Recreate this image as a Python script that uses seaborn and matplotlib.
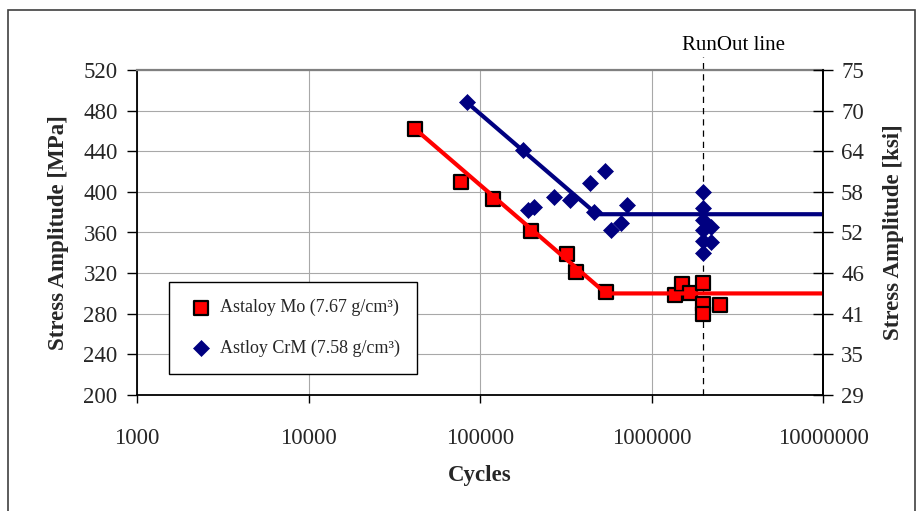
import matplotlib
matplotlib.use("Agg")
import matplotlib.pyplot as plt
import matplotlib.patches as mpatches
import seaborn as sns
import pandas as pd

# ---------------- data ----------------
mo_cycles = [41800, 77500, 119000, 198000, 321000, 363000, 543000,
             1370000, 1510000, 1670000, 2000000, 2000000, 2500000, 2000000]
mo_stress = [462, 410, 393, 361, 339, 321, 301,
             298, 309, 300, 310, 290, 289, 280]

crm_cycles = [84000, 178000, 191000, 207000, 270000, 335000, 438000, 535000,
              462000, 719000, 664000, 581000,
              2000000, 2000000, 2000000, 2000000, 2000000, 2000000, 2220000, 2220000]
crm_stress = [488, 441, 382, 385, 395, 392, 409, 421,
              380, 387, 369, 362,
              400, 384, 372, 362, 352, 340, 365, 351]

mo_fit_cycles = [41800, 543000, 10000000]
mo_fit_stress = [462, 300, 300]
crm_fit_cycles = [84000, 480000, 10000000]
crm_fit_stress = [488, 378, 378]

runout_cycles = 2000000

x_ticks = [1000, 10000, 100000, 1000000, 10000000]
x_tick_labels = ["1000", "10000", "100000", "1000000", "10000000"]
mpa_ticks = [200, 240, 280, 320, 360, 400, 440, 480, 520]
ksi_tick_labels = ["29", "35", "41", "46", "52", "58", "64", "70", "75"]

mo_label = "Astaloy Mo (7.67 g/cm³)"
crm_label = "Astloy CrM (7.58 g/cm³)"

# ---------------- style ----------------
sns.set_theme(style="white")
plt.rcParams["font.family"] = ["Liberation Serif", "DejaVu Serif"]
plt.rcParams["axes.unicode_minus"] = False

W, H = 923, 511
fig = plt.figure(figsize=(W / 100, H / 100), dpi=100)
fig.patch.set_facecolor("white")

# outer frame of the figure
fig.patches.append(mpatches.Rectangle((8 / W, -0.05), (915 - 8) / W, 1 - 10 / H + 0.05,
                                      transform=fig.transFigure, fill=False,
                                      edgecolor="#404040", linewidth=1.2))

ax = fig.add_axes([137 / W, 1 - 395 / H, (823 - 137) / W, (395 - 70) / H])
ax.set_facecolor("white")

mo_df = pd.DataFrame({"Cycles": mo_cycles, "Stress": mo_stress})
crm_df = pd.DataFrame({"Cycles": crm_cycles, "Stress": crm_stress})
mo_fit = pd.DataFrame({"Cycles": mo_fit_cycles, "Stress": mo_fit_stress})
crm_fit = pd.DataFrame({"Cycles": crm_fit_cycles, "Stress": crm_fit_stress})

sns.scatterplot(data=mo_df, x="Cycles", y="Stress", marker="s", s=100,
                color="#FF0000", edgecolor="black", linewidth=1.6,
                ax=ax, label=mo_label, zorder=3)
sns.scatterplot(data=crm_df, x="Cycles", y="Stress", marker="D", s=66,
                color="#000080", edgecolor="#000080", linewidth=0.5,
                ax=ax, label=crm_label, zorder=3)
sns.lineplot(data=mo_fit, x="Cycles", y="Stress", color="#FF0000", linewidth=3,
             estimator=None, sort=False, ax=ax, legend=False, zorder=4)
sns.lineplot(data=crm_fit, x="Cycles", y="Stress", color="#000080", linewidth=3,
             estimator=None, sort=False, ax=ax, legend=False, zorder=4)

ax.set_xscale("log")
ax.set_xlim(1000, 10000000)
ax.set_ylim(200, 520)

# run-out line, extending above the plot
ax.plot([runout_cycles, runout_cycles], [200, 533], color="black", linewidth=0.9,
        linestyle=(0, (5, 4)), zorder=2, clip_on=False)
ax.text(3000000, 535, "RunOut line", ha="center", va="bottom", fontsize=15,
        color="black")

ax.set_xticks(x_ticks)
ax.set_xticklabels(x_tick_labels)
ax.xaxis.set_minor_locator(matplotlib.ticker.NullLocator())
ax.set_yticks(mpa_ticks)
ax.set_yticklabels([str(v) for v in mpa_ticks])

ax.grid(True, which="major", color="#a8a8a8", linewidth=0.8)
ax.set_axisbelow(True)

ax.tick_params(axis="x", which="major", direction="out", length=6, width=1,
               color="black", pad=18, labelsize=16.5, bottom=True)
ax.tick_params(axis="y", which="major", direction="out", length=7, width=1,
               color="black", pad=7, labelsize=16.5, left=True)

for side in ["left", "bottom", "right"]:
    ax.spines[side].set_color("black")
    ax.spines[side].set_linewidth(1.3)
ax.spines["top"].set_color("#808080")
ax.spines["top"].set_linewidth(1.6)

ax.set_xlabel("Cycles", fontsize=16.5, fontweight="bold", labelpad=11)
ax.set_ylabel("Stress Amplitude [MPa]", fontsize=16.5, fontweight="bold", labelpad=10)

# right axis in ksi
ax2 = ax.twinx()
ax2.set_ylim(200, 520)
ax2.set_yticks(mpa_ticks)
ax2.set_yticklabels(ksi_tick_labels)
ax2.tick_params(axis="y", direction="inout", length=14, width=1, color="black",
                pad=6, labelsize=16.5, right=True)
ax2.grid(False)
for side in ["left", "bottom", "top"]:
    ax2.spines[side].set_visible(False)
ax2.spines["right"].set_color("black")
ax2.spines["right"].set_linewidth(1.3)
ax2.set_ylabel("Stress Amplitude [ksi]", fontsize=16.5, fontweight="bold",
               rotation=90, labelpad=14)

# legend
if ax.get_legend() is not None:
    ax.get_legend().remove()
handles, labels = ax.get_legend_handles_labels()
leg = ax2.legend(handles, labels, loc="upper left",
                 bbox_to_anchor=(169 / W, 1 - 282 / H), bbox_transform=fig.transFigure,
                 borderaxespad=0, fontsize=13, frameon=True, fancybox=False,
                 framealpha=1, edgecolor="black", borderpad=0.95, labelspacing=1.3,
                 handlelength=1.6, handletextpad=0.25)
leg.get_frame().set_linewidth(1.0)

fig.savefig("out.png", dpi=100)
